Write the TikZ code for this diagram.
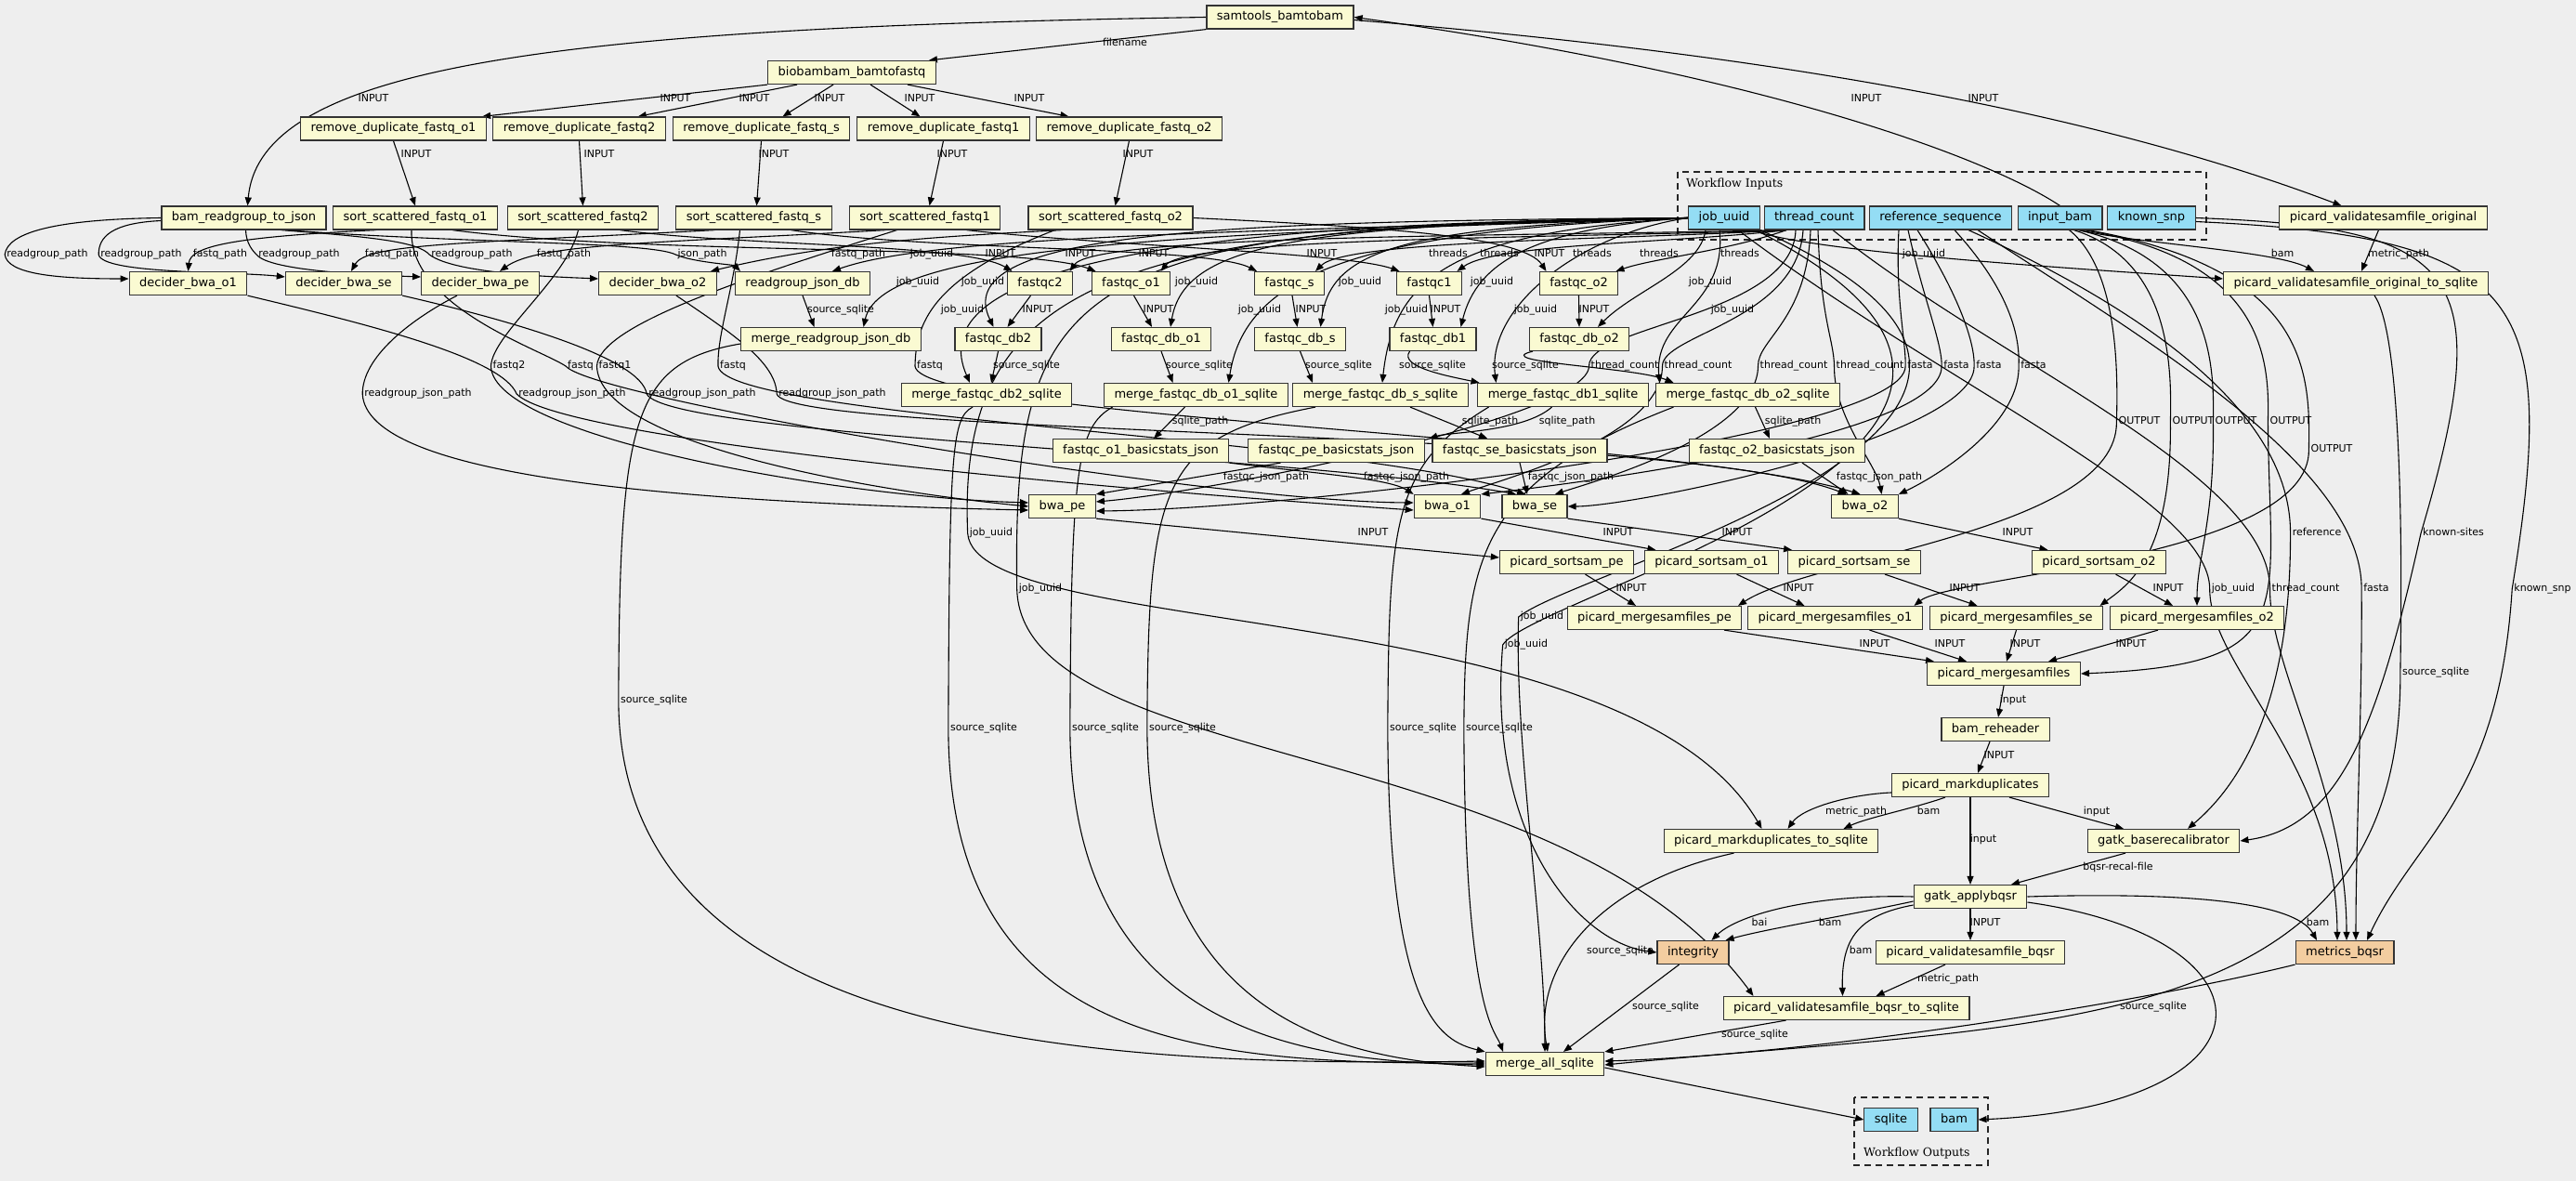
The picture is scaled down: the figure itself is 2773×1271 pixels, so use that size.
\documentclass[tikz,border=0pt]{standalone}
\usepackage{fontspec}
\setmainfont{DejaVu Sans}
\newfontfamily\clusterfont{DejaVu Serif}
\usetikzlibrary{arrows.meta}
\definecolor{toolfill}{HTML}{FAFAD2}
\definecolor{iofill}{HTML}{94DDF4}
\definecolor{checkfill}{HTML}{F3CDA0}
\definecolor{bgcol}{HTML}{EEEEEE}
\definecolor{boxline}{HTML}{333333}
\pgfdeclarelayer{back}
\pgfsetlayers{back,main}
\tikzset{
	tool/.style={draw=boxline, line width=1.2pt, fill=toolfill, minimum height=25pt, inner xsep=11pt, inner ysep=0pt, text height=9.5pt, text depth=3pt, font=\fontsize{13}{15}\selectfont},
	io/.style={tool, fill=iofill},
	check/.style={tool, fill=checkfill},
	flow/.style={line width=1.1pt, -{Triangle[length=9pt,width=7pt]}},
	elabel/.style={inner xsep=2pt, inner ysep=1pt, text height=8pt, text depth=2.5pt, font=\fontsize{11}{13}\selectfont},
	cluster/.style={draw=black!85, line width=1.3pt, dash pattern=on 7pt off 5pt},
	ctitle/.style={anchor=west, inner sep=0pt, font=\clusterfont\fontsize{12.5}{14}\selectfont}
}
\def\lbl(#1)(#2,#3)#4{\node[elabel] (#1) at (#2,-#3) {#4};}

\begin{document}
\begin{tikzpicture}[x=1pt,y=1pt]
			%%%%% START %%%%%
			\useasboundingbox (0,0) rectangle (2773,-1271);
			
			\node[tool] (samtools) at (1378,-18.5) {samtools\_bamtobam};
			\node[tool] (biobambam) at (917,-78) {biobambam\_bamtofastq};
			
			\node[tool] (rmdupo1) at (423.5,-138.5) {remove\_duplicate\_fastq\_o1};
			\node[tool] (rmdup2) at (623.5,-138.5) {remove\_duplicate\_fastq2};
			\node[tool] (rmdups) at (819.5,-138.5) {remove\_duplicate\_fastq\_s};
			\node[tool] (rmdup1) at (1015.5,-138.5) {remove\_duplicate\_fastq1};
			\node[tool] (rmdupo2) at (1215.5,-138.5) {remove\_duplicate\_fastq\_o2};
			
			\node[tool] (rgjson) at (262.5,-234.5) {bam\_readgroup\_to\_json};
			\node[tool] (sorto1) at (447,-234.5) {sort\_scattered\_fastq\_o1};
			\node[tool] (sort2) at (627.5,-234.5) {sort\_scattered\_fastq2};
			\node[tool] (sorts) at (811.5,-234.5) {sort\_scattered\_fastq\_s};
			\node[tool] (sort1) at (995.5,-234.5) {sort\_scattered\_fastq1};
			\node[tool] (sorto2) at (1195.5,-234.5) {sort\_scattered\_fastq\_o2};
			
			\node[io] (jobuuid) at (1856,-234.5) {job\_uuid};
			\node[io] (threadcount) at (1953,-234.5) {thread\_count};
			\node[io] (refseq) at (2089,-234.5) {reference\_sequence};
			\node[io] (inbam) at (2217.5,-234.5) {input\_bam};
			\node[io] (knownsnp) at (2316,-234.5) {known\_snp};
			\node[tool] (pvorig) at (2565.5,-234.5) {picard\_validatesamfile\_original};
			
			\node[tool] (deco1) at (202.5,-305) {decider\_bwa\_o1};
			\node[tool] (decse) at (370,-305) {decider\_bwa\_se};
			\node[tool] (decpe) at (517,-305) {decider\_bwa\_pe};
			\node[tool] (deco2) at (708,-305) {decider\_bwa\_o2};
			\node[tool] (rgdb) at (864,-305) {readgroup\_json\_db};
			\node[tool] (fqc2) at (1119.5,-305) {fastqc2};
			\node[tool] (fqco1) at (1217.5,-305) {fastqc\_o1};
			\node[tool] (fqcs) at (1388,-305) {fastqc\_s};
			\node[tool] (fqc1) at (1538.5,-305) {fastqc1};
			\node[tool] (fqco2) at (1699.5,-305) {fastqc\_o2};
			\node[tool] (pvorigsql) at (2536,-305) {picard\_validatesamfile\_original\_to\_sqlite};
			
			\node[tool] (mergergdb) at (894.5,-365) {merge\_readgroup\_json\_db};
			\node[tool] (fdb2) at (1074.5,-365) {fastqc\_db2};
			\node[tool] (fdbo1) at (1250,-365) {fastqc\_db\_o1};
			\node[tool] (fdbs) at (1399.5,-365) {fastqc\_db\_s};
			\node[tool] (fdb1) at (1542.5,-365) {fastqc\_db1};
			\node[tool] (fdbo2) at (1700,-365) {fastqc\_db\_o2};
			
			\node[tool] (mdb2) at (1062,-425) {merge\_fastqc\_db2\_sqlite};
			\node[tool] (mdbo1) at (1287.5,-425) {merge\_fastqc\_db\_o1\_sqlite};
			\node[tool] (mdbs) at (1486,-425) {merge\_fastqc\_db\_s\_sqlite};
			\node[tool] (mdb1) at (1682.5,-425) {merge\_fastqc\_db1\_sqlite};
			\node[tool] (mdbo2) at (1881.5,-425) {merge\_fastqc\_db\_o2\_sqlite};
			
			\node[tool] (bso1) at (1228,-485) {fastqc\_o1\_basicstats\_json};
			\node[tool] (bspe) at (1438.5,-485) {fastqc\_pe\_basicstats\_json};
			\node[tool] (bsse) at (1636,-485) {fastqc\_se\_basicstats\_json};
			\node[tool] (bso2) at (1913,-485) {fastqc\_o2\_basicstats\_json};
			
			\node[tool] (bwape) at (1143.5,-545) {bwa\_pe};
			\node[tool] (bwao1) at (1558,-545) {bwa\_o1};
			\node[tool] (bwase) at (1652,-545) {bwa\_se};
			\node[tool] (bwao2) at (2007.5,-545) {bwa\_o2};
			
			\node[tool] (sspe) at (1686.5,-605) {picard\_sortsam\_pe};
			\node[tool] (sso1) at (1842.5,-605) {picard\_sortsam\_o1};
			\node[tool] (ssse) at (1996,-605) {picard\_sortsam\_se};
			\node[tool] (sso2) at (2259.5,-605) {picard\_sortsam\_o2};
			
			\node[tool] (msfpe) at (1781,-665) {picard\_mergesamfiles\_pe};
			\node[tool] (msfo1) at (1975.5,-665) {picard\_mergesamfiles\_o1};
			\node[tool] (msfse) at (2170.5,-665) {picard\_mergesamfiles\_se};
			\node[tool] (msfo2) at (2365,-665) {picard\_mergesamfiles\_o2};
			\node[tool] (msf) at (2157,-725) {picard\_mergesamfiles};
			\node[tool] (reheader) at (2148,-785) {bam\_reheader};
			\node[tool] (markdup) at (2121,-845) {picard\_markduplicates};
			\node[tool] (markdupsql) at (1906.5,-905) {picard\_markduplicates\_to\_sqlite};
			\node[tool] (baserecal) at (2329,-905) {gatk\_baserecalibrator};
			\node[tool] (applybqsr) at (2121,-965) {gatk\_applybqsr};
			\node[check] (integrity) at (1822.5,-1025) {integrity};
			\node[tool] (pvbqsr) at (2121,-1025) {picard\_validatesamfile\_bqsr};
			\node[check] (metrics) at (2524,-1025) {metrics\_bqsr};
			\node[tool] (pvbqsrsql) at (1987.5,-1085) {picard\_validatesamfile\_bqsr\_to\_sqlite};
			\node[tool] (mergeall) at (1663,-1145) {merge\_all\_sqlite};
			
			\node[io] (outsqlite) at (2035.5,-1205) {sqlite};
			\node[io] (outbam) at (2103.5,-1205) {bam};
			
			\node[ctitle] (intitle) at (1815,-198) {Workflow Inputs};
			\node[ctitle] (outtitle) at (2006,-1241) {Workflow Outputs};
			
			%%%%% LABELS %%%%%
			
			\lbl(lfile)(1211,47){filename}
			\lbl(lin0)(402,107){INPUT}
			\lbl(lin1)(727,107){INPUT}
			\lbl(lin2)(812,107){INPUT}
			\lbl(lin3)(893,107){INPUT}
			\lbl(lin4)(990,107){INPUT}
			\lbl(lin5)(1108,107){INPUT}
			\lbl(lin6)(2009,107){INPUT}
			\lbl(lin7)(2135,107){INPUT}
			
			\lbl(lrd1)(448,167){INPUT}
			\lbl(lrd2)(645,167){INPUT}
			\lbl(lrd3)(833,167){INPUT}
			\lbl(lrd4)(1025,167){INPUT}
			\lbl(lrd5)(1225,167){INPUT}
			
			\lbl(lrg1)(51,274){readgroup\_path}
			\lbl(lrg2)(152,274){readgroup\_path}
			\lbl(lrg3)(322,274){readgroup\_path}
			\lbl(lrg4)(508,274){readgroup\_path}
			\lbl(lfp1)(237,274){fastq\_path}
			\lbl(lfp2)(422,274){fastq\_path}
			\lbl(lfp3)(607,274){fastq\_path}
			\lbl(lfp4)(924,274){fastq\_path}
			\lbl(ljson)(756,274){json\_path}
			\lbl(ljrg)(1003,274){job\_uuid}
			\lbl(lfi1)(1077,274){INPUT}
			\lbl(lfi2)(1163,274){INPUT}
			\lbl(lfi3)(1242,274){INPUT}
			\lbl(lfi4)(1423,274){INPUT}
			\lbl(lfi5)(1668,274){INPUT}
			\lbl(lth1)(1559,274){threads}
			\lbl(lth2)(1614,274){threads}
			\lbl(lth3)(1714,274){threads}
			\lbl(lth4)(1786,274){threads}
			\lbl(lth5)(1873,274){threads}
			\lbl(ljpv)(2071,274){job\_uuid}
			\lbl(lbpv)(2457,274){bam}
			\lbl(lmpv)(2582,274){metric\_path}
			
			\lbl(ljmr)(988,304){job\_uuid}
			\lbl(ljd1)(1058,304){job\_uuid}
			\lbl(ljd2)(1288,304){job\_uuid}
			\lbl(ljd3)(1464,304){job\_uuid}
			\lbl(ljd4)(1606,304){job\_uuid}
			\lbl(ljd5)(1841,304){job\_uuid}
			
			\lbl(lsmr)(905,334){source\_sqlite}
			\lbl(ljm1)(1036,334){job\_uuid}
			\lbl(lfd1)(1117,334){INPUT}
			\lbl(lfd2)(1247,334){INPUT}
			\lbl(ljm2)(1356,334){job\_uuid}
			\lbl(lfd3)(1411,334){INPUT}
			\lbl(ljm3)(1514,334){job\_uuid}
			\lbl(lfd4)(1556,334){INPUT}
			\lbl(ljm4)(1653,334){job\_uuid}
			\lbl(lfd5)(1716,334){INPUT}
			\lbl(ljm5)(1865,334){job\_uuid}
			
			\lbl(lfq2)(548,394){fastq2}
			\lbl(lfq1)(625,394){fastq}
			\lbl(lfq3)(662,394){fastq1}
			\lbl(lfq4)(789,394){fastq}
			\lbl(lfq5)(1001,394){fastq}
			\lbl(lsd1)(1105,394){source\_sqlite}
			\lbl(lsd2)(1291,394){source\_sqlite}
			\lbl(lsd3)(1441,394){source\_sqlite}
			\lbl(lsd4)(1542,394){source\_sqlite}
			\lbl(lsd5)(1642,394){source\_sqlite}
			\lbl(ltc1)(1749,394){thread\_count}
			\lbl(ltc2)(1828,394){thread\_count}
			\lbl(ltc3)(1931,394){thread\_count}
			\lbl(ltc4)(2013,394){thread\_count}
			\lbl(lfa1)(2067,394){fasta}
			\lbl(lfa2)(2106,394){fasta}
			\lbl(lfa3)(2141,394){fasta}
			\lbl(lfa4)(2189,394){fasta}
			
			\lbl(lrj1)(450,424){readgroup\_json\_path}
			\lbl(lrj2)(616,424){readgroup\_json\_path}
			\lbl(lrj3)(756,424){readgroup\_json\_path}
			\lbl(lrj4)(896,424){readgroup\_json\_path}
			
			\lbl(lsq1)(1292,454){sqlite\_path}
			\lbl(lsq2)(1604,454){sqlite\_path}
			\lbl(lsq3)(1687,454){sqlite\_path}
			\lbl(lsq4)(1930,454){sqlite\_path}
			\lbl(lou1)(2303,454){OUTPUT}
			\lbl(lou2)(2361,454){OUTPUT}
			\lbl(lou3)(2407,454){OUTPUT}
			\lbl(lou4)(2466,454){OUTPUT}
			\lbl(lou5)(2510,484){OUTPUT}
			
			\lbl(ljs1)(1363,514){fastqc\_json\_path}
			\lbl(ljs2)(1514,514){fastqc\_json\_path}
			\lbl(ljs3)(1691,514){fastqc\_json\_path}
			\lbl(ljs4)(2023,514){fastqc\_json\_path}
			
			\lbl(lju1)(1067,574){job\_uuid}
			\lbl(lsi1)(1478,574){INPUT}
			\lbl(lsi2)(1742,574){INPUT}
			\lbl(lsi3)(1870,574){INPUT}
			\lbl(lsi4)(2172,574){INPUT}
			\lbl(lref)(2494,574){reference}
			\lbl(lks)(2641,574){known-sites}
			
			\lbl(lju2)(1120,634){job\_uuid}
			\lbl(lmi1)(1756,634){INPUT}
			\lbl(lmi2)(1936,634){INPUT}
			\lbl(lmi3)(2115,634){INPUT}
			\lbl(lmi4)(2334,634){INPUT}
			\lbl(ljmb)(2404,634){job\_uuid}
			\lbl(ltmb)(2482,634){thread\_count}
			\lbl(lfmb)(2558,634){fasta}
			\lbl(lksn)(2737,634){known\_snp}
			
			\lbl(lju3)(1660,664){job\_uuid}
			\lbl(lju4)(1643,694){job\_uuid}
			\lbl(lpi1)(2018,694){INPUT}
			\lbl(lpi2)(2099,694){INPUT}
			\lbl(lpi3)(2180,694){INPUT}
			\lbl(lpi4)(2294,694){INPUT}
			\lbl(lspv)(2622,724){source\_sqlite}
			\lbl(lsm1)(704,754){source\_sqlite}
			\lbl(lrh)(2167,754){input}
			
			\lbl(lsa1)(1059,784){source\_sqlite}
			\lbl(lsa2)(1190,784){source\_sqlite}
			\lbl(lsa3)(1273,784){source\_sqlite}
			\lbl(lsa4)(1532,784){source\_sqlite}
			\lbl(lsa5)(1614,784){source\_sqlite}
			\lbl(lmd)(2152,814){INPUT}
			
			\lbl(lmp)(1998,874){metric\_path}
			\lbl(lbm)(2076,874){bam}
			\lbl(lbr)(2257,874){input}
			\lbl(lap)(2135,904){input}
			\lbl(lrc)(2280,934){bqsr-recal-file}
			\lbl(lbai)(1894,994){bai}
			\lbl(lbi)(1970,994){bam}
			\lbl(lvi)(2137,994){INPUT}
			\lbl(lbmt)(2495,994){bam}
			\lbl(lsmd)(1744,1024){source\_sqlite}
			\lbl(lbv)(2003,1024){bam}
			\lbl(lmv)(2097,1054){metric\_path}
			\lbl(lsin)(1793,1084){source\_sqlite}
			\lbl(lsmt)(2318,1084){source\_sqlite}
			\lbl(lsvb)(1889,1114){source\_sqlite}
			
			\begin{pgfonlayer}{back}
			\fill[bgcol] (0,0) rectangle (2773,-1271);
			\draw[cluster] (1806,-185) rectangle (2375,-258);
			\draw[cluster] (1996,-1181) rectangle (2140,-1254);
			
			%%%%% TOP %%%%%
			
			\draw[flow] (samtools.south west) -- ([xshift=-8]biobambam.north east);
			\draw[flow] (samtools.west) .. controls (600,-30) and (280,-70) .. ([xshift=4]rgjson.north);
			\draw[flow] (inbam.north) .. controls (2140,-170) and (1900,-80) .. (samtools.east);
			\draw[flow] ([yshift=-3]samtools.east) .. controls (1800,-50) and (2200,-100) .. ([xshift=-45]pvorig.north);
			
			\draw[flow] (biobambam.south west) -- ([xshift=-5]rmdupo1.north east);
			\draw[flow] ([xshift=32]biobambam.south west) -- ([xshift=-30]rmdup2.north east);
			\draw[flow] ([xshift=-20]biobambam.south) -- ([xshift=23]rmdups.north);
			\draw[flow] ([xshift=20]biobambam.south) -- ([xshift=-25]rmdup1.north);
			\draw[flow] ([xshift=60]biobambam.south) -- ([xshift=-65]rmdupo2.north);
			
			\draw[flow] (rmdupo1.south) -- (sorto1.north);
			\draw[flow] (rmdup2.south) -- (sort2.north);
			\draw[flow] (rmdups.south) -- ([xshift=3]sorts.north);
			\draw[flow] (rmdup1.south) -- ([xshift=5]sort1.north);
			\draw[flow] (rmdupo2.south) -- ([xshift=5]sorto2.north);
			
			%%%%% DECIDERS %%%%%
			
			\draw[flow] (rgjson.west) .. controls (60,-236) and (8,-250) .. (lrg1.west) .. controls (8,-295) and (60,-300) .. ([yshift=5]deco1.west);
			\draw[flow] ([yshift=-3]rgjson.west) .. controls (120,-240) and (106,-255) .. (lrg2.west) .. controls (110,-295) and (250,-292) .. ([yshift=7]decse.west);
			\draw[flow] ([xshift=2]rgjson.south) .. controls (265,-262) and (272,-270) .. (lrg3.west) .. controls (290,-292) and (400,-296) .. ([yshift=7]decpe.west);
			\draw[flow] ([xshift=40]rgjson.south) .. controls (400,-255) and (450,-260) .. (lrg4.west) .. controls (490,-295) and (600,-298) .. ([yshift=5]deco2.west);
			\draw[flow] ([xshift=45]rgjson.south) .. controls (500,-262) and (700,-260) .. (ljson.west) .. controls (745,-282) and (790,-285) .. ([xshift=-67]rgdb.north);
			
			\draw[flow] ([xshift=-42]sorto1.south) .. controls (250,-255) and (205,-265) .. (deco1.north);
			\draw[flow] ([xshift=-42]sorts.south) .. controls (500,-262) and (395,-262) .. ([xshift=8]decse.north);
			\draw[flow] ([xshift=-42]sort1.south) .. controls (700,-262) and (580,-262) .. ([xshift=21]decpe.north);
			\draw[flow] ([xshift=-52]sorto2.south) .. controls (1000,-255) and (890,-262) .. ([xshift=57]deco2.north);
			
			\draw[flow] (jobuuid.west) .. controls (1300,-250) and (1000,-255) .. ([xshift=32]rgdb.north);
			\draw[flow] (jobuuid.west) .. controls (1300,-252) and (950,-260) .. ([xshift=35]mergergdb.north);
			\draw[flow] (rgdb.south) -- ([xshift=-18]mergergdb.north);
			
			%%%%% BWA INPUTS %%%%%
			
			\draw[flow] ([xshift=-25]decpe.south) .. controls (440,-345) and (390,-385) .. (lrj1.west) .. controls (395,-510) and (700,-540) .. ([yshift=-4]bwape.west);
			\draw[flow] (deco1.south east) .. controls (400,-350) and (540,-385) .. (lrj2.west) .. controls (600,-470) and (1100,-520) .. ([yshift=-4]bwao1.west);
			\draw[flow] (decse.south east) .. controls (550,-345) and (690,-385) .. (lrj3.west) .. controls (720,-470) and (1400,-490) .. ([xshift=-20]bwase.north);
			\draw[flow] ([xshift=20]deco2.south) .. controls (790,-360) and (835,-390) .. (lrj4.west) .. controls (850,-470) and (1800,-460) .. ([xshift=-20]bwao2.north);
			
			\draw[flow] ([xshift=-5]sort2.south) .. controls (610,-300) and (530,-360) .. (lfq2.west) .. controls (530,-470) and (900,-535) .. ([yshift=4]bwape.west);
			\draw[flow] ([xshift=-4]sorto1.south) .. controls (440,-330) and (580,-375) .. (lfq1.west) .. controls (640,-430) and (1300,-540) .. ([yshift=4]bwao1.west);
			\draw[flow] ([xshift=-30]sort1.south) .. controls (800,-300) and (645,-350) .. (lfq3.west) .. controls (645,-480) and (950,-530) .. (bwape.west);
			\draw[flow] ([xshift=-15]sorts.south) .. controls (790,-310) and (772,-360) .. (lfq4.west) .. controls (780,-450) and (1450,-470) .. ([xshift=-10]bwase.north);
			\draw[flow] ([xshift=-60]sorto2.south) .. controls (1000,-300) and (986,-350) .. (lfq5.west) .. controls (990,-450) and (1800,-470) .. ([xshift=-5]bwao2.north);
			
			%%%%% FASTQC %%%%%
			
			\draw[flow] ([xshift=40]sort2.south) .. controls (800,-265) and (1040,-262) .. ([xshift=-30]fqc2.north);
			\draw[flow] ([xshift=40]sorto1.south) .. controls (700,-275) and (1100,-262) .. ([xshift=-38]fqco1.north);
			\draw[flow] ([xshift=40]sorts.south) .. controls (1000,-270) and (1300,-265) .. ([xshift=-35]fqcs.north);
			\draw[flow] ([xshift=45]sort1.south) .. controls (1200,-265) and (1450,-272) .. ([xshift=-32]fqc1.north);
			\draw[flow] (sorto2.east) .. controls (1500,-245) and (1640,-255) .. ([xshift=-35]fqco2.north);
			
			\draw[flow] ([xshift=-30]threadcount.south) .. controls (1860,-270) and (1780,-278) .. ([xshift=40]fqco2.north);
			\draw[flow] ([xshift=-30]threadcount.south) .. controls (1800,-262) and (1610,-262) .. ([xshift=30]fqc1.north);
			\draw[flow] ([xshift=-30]threadcount.south) .. controls (1750,-258) and (1450,-258) .. ([xshift=28]fqcs.north);
			\draw[flow] ([xshift=-30]threadcount.south) .. controls (1700,-256) and (1280,-255) .. ([xshift=32]fqco1.north);
			\draw[flow] ([xshift=-30]threadcount.south) .. controls (1650,-254) and (1180,-252) .. ([xshift=32]fqc2.north);
			
			\draw[flow] ([xshift=-10]fqc2.south) -- ([xshift=10]fdb2.north);
			\draw[flow] ([xshift=3]fqco1.south) -- ([xshift=-10]fdbo1.north);
			\draw[flow] ([xshift=3]fqcs.south) -- ([xshift=-3]fdbs.north);
			\draw[flow] (fqc1.south) -- (fdb1.north);
			\draw[flow] (fqco2.south) -- (fdbo2.north);
			
			\draw[flow] (jobuuid.west) .. controls (1300,-238) and (1020,-250) .. ([xshift=-5]fdb2.north);
			\draw[flow] (jobuuid.west) .. controls (1400,-242) and (1275,-262) .. ([xshift=10]fdbo1.north);
			\draw[flow] (jobuuid.west) .. controls (1500,-244) and (1432,-272) .. ([xshift=22]fdbs.north);
			\draw[flow] (jobuuid.west) .. controls (1650,-246) and (1590,-282) .. ([xshift=30]fdb1.north);
			\draw[flow] ([xshift=-20]jobuuid.south) .. controls (1830,-290) and (1760,-312) .. ([xshift=20]fdbo2.north);
			
			\draw[flow] (jobuuid.west) .. controls (1200,-240) and (995,-300) .. ([xshift=-18]mdb2.north);
			\draw[flow] (jobuuid.west) .. controls (1450,-248) and (1340,-300) .. ([xshift=35]mdbo1.north);
			\draw[flow] (jobuuid.west) .. controls (1560,-250) and (1500,-300) .. ([xshift=2]mdbs.north);
			\draw[flow] (jobuuid.west) .. controls (1700,-252) and (1600,-330) .. ([xshift=-72]mdb1.north);
			\draw[flow] ([xshift=-5]jobuuid.south) .. controls (1860,-330) and (1780,-340) .. ([xshift=-95]mdbo2.north);
			
			\draw[flow] (fdb2.south) -- ([xshift=5]mdb2.north);
			\draw[flow] (fdbo1.south) -- ([xshift=-25]mdbo1.north);
			\draw[flow] (fdbs.south) -- ([xshift=-73]mdbs.north);
			\draw[flow] ([xshift=-25]fdb1.south) .. controls (1505,-395) and (1560,-405) .. ([xshift=-90]mdb1.north);
			\draw[flow] ([xshift=-50]fdbo2.south) .. controls (1600,-390) and (1760,-395) .. ([xshift=-80]mdbo2.north);
			
			\draw[flow] ([xshift=-12]mdbo1.south) -- ([xshift=14]bso1.north);
			\draw[flow] ([xshift=32]mdbs.south) -- ([xshift=-35]bsse.north);
			\draw[flow] ([xshift=-12]mdb1.south) .. controls (1640,-465) and (1560,-465) .. ([xshift=100]bspe.north);
			\draw[flow] ([xshift=8]mdbo2.south) -- ([xshift=-8]bso2.north);
			
			\draw[flow] ([xshift=-60]bspe.south) -- (bwape.north east);
			\draw[flow] (bso1.south east) .. controls (1420,-510) and (1495,-515) .. (bwao1.north west);
			\draw[flow] (bsse.south) -- ([xshift=-8]bwase.north);
			\draw[flow] ([xshift=27]bso2.south) -- ([xshift=-18]bwao2.north);
			
			%%%%% BWA PARAMETERS %%%%%
			
			\draw[flow] ([xshift=-20]threadcount.south) .. controls (1930,-340) and (1710,-350) .. (ltc1.west) .. controls (1710,-450) and (1300,-530) .. ([yshift=5]bwape.east);
			\draw[flow] ([xshift=-12]threadcount.south) .. controls (1935,-345) and (1789,-360) .. (ltc2.west) .. controls (1789,-470) and (1620,-515) .. ([xshift=15]bwao1.north);
			\draw[flow] ([xshift=-4]threadcount.south) .. controls (1945,-345) and (1892,-365) .. (ltc3.west) .. controls (1892,-470) and (1710,-520) .. ([xshift=22]bwase.north);
			\draw[flow] ([xshift=4]threadcount.south) .. controls (1960,-345) and (1974,-365) .. (ltc4.west) .. controls (1974,-450) and (2020,-500) .. ([xshift=18]bwao2.north);
			
			\draw[flow] ([xshift=-45]refseq.south) .. controls (2040,-320) and (2052,-370) .. (lfa1.west) .. controls (2052,-470) and (1400,-548) .. ([yshift=-5]bwape.east);
			\draw[flow] ([xshift=-35]refseq.south) .. controls (2070,-320) and (2091,-370) .. (lfa2.west) .. controls (2091,-470) and (1700,-520) .. (bwao1.north east);
			\draw[flow] ([xshift=-25]refseq.south) .. controls (2110,-320) and (2126,-370) .. (lfa3.west) .. controls (2126,-470) and (1760,-545) .. (bwase.east);
			\draw[flow] ([xshift=15]refseq.south) .. controls (2170,-320) and (2174,-370) .. (lfa4.west) .. controls (2174,-460) and (2080,-515) .. (bwao2.north east);
			
			%%%%% PICARD %%%%%
			
			\draw[flow] (bwape.south east) -- ([yshift=5]sspe.west);
			\draw[flow] (bwao1.south east) -- ([xshift=-60]sso1.north);
			\draw[flow] (bwase.south east) -- ([xshift=5]ssse.north west);
			\draw[flow] (bwao2.south east) -- ([xshift=-55]sso2.north);
			
			\draw[flow] ([xshift=20]sspe.south) -- ([xshift=-20]msfpe.north);
			\draw[flow] ([xshift=27]sso1.south) -- ([xshift=-33]msfo1.north);
			\draw[flow] ([xshift=33]ssse.south) -- ([xshift=-42]msfse.north);
			\draw[flow] ([xshift=18]sso2.south) -- ([xshift=-26]msfo2.north);
			
			\draw[flow] ([xshift=10]inbam.south) .. controls (2280,-290) and (2280,-400) .. (lou1.west) .. controls (2280,-570) and (1950,-600) .. ([xshift=90]msfpe.north);
			\draw[flow] ([xshift=15]inbam.south) .. controls (2335,-280) and (2338,-390) .. (lou2.west) .. controls (2338,-600) and (2290,-630) .. ([xshift=90]msfse.north);
			\draw[flow] ([xshift=20]inbam.south) .. controls (2380,-280) and (2384,-390) .. (lou3.west) .. controls (2384,-560) and (2365,-600) .. (msfo2.north);
			\draw[flow] ([xshift=25]inbam.south) .. controls (2440,-280) and (2443,-390) .. (lou4.west) .. controls (2443,-660) and (2480,-715) .. (msf.east);
			\draw[flow] ([xshift=30]inbam.south) .. controls (2485,-290) and (2487,-400) .. (lou5.west) .. controls (2487,-600) and (2100,-620) .. ([xshift=85]msfo1.north);
			
			\draw[flow] ([xshift=75]msfpe.south) -- ([xshift=-75]msf.north);
			\draw[flow] ([xshift=37]msfo1.south) -- ([xshift=-40]msf.north);
			\draw[flow] (msfse.south) -- ([xshift=3]msf.north);
			\draw[flow] ([xshift=-42]msfo2.south) -- ([xshift=48]msf.north);
			
			\draw[flow] (msf.south) -- ([xshift=3]reheader.north);
			\draw[flow] ([xshift=-6]reheader.south) -- ([xshift=8]markdup.north);
			\draw[flow] ([yshift=-8]markdup.west) .. controls (1990,-855) and (1940,-870) .. ([xshift=18]markdupsql.north);
			\draw[flow] ([xshift=-27]markdup.south) .. controls (2060,-870) and (2010,-880) .. ([xshift=78]markdupsql.north);
			\draw[flow] ([xshift=42]markdup.south) -- ([xshift=-43]baserecal.north);
			\draw[flow] (markdup.south) -- (applybqsr.north);
			\draw[flow] ([xshift=-41]baserecal.south) -- ([xshift=44]applybqsr.north);
			
			\draw[flow] ([xshift=30]refseq.south) .. controls (2300,-330) and (2466,-440) .. (lref.west) .. controls (2466,-700) and (2440,-820) .. ([xshift=26]baserecal.north);
			\draw[flow] (knownsnp.east) .. controls (2650,-245) and (2690,-290) .. (lks.west) .. controls (2560,-780) and (2520,-890) .. (baserecal.east);
			\draw[flow] ([yshift=-4]knownsnp.east) .. controls (2720,-255) and (2755,-320) .. (lksn.west) .. controls (2690,-860) and (2600,-900) .. ([xshift=24]metrics.north);
			
			\draw[flow] ([xshift=15]jobuuid.south) .. controls (2100,-420) and (2379,-540) .. (ljmb.west) .. controls (2379,-720) and (2515,-820) .. ([xshift=-8]metrics.north);
			\draw[flow] ([xshift=20]threadcount.south) .. controls (2150,-390) and (2443,-510) .. (ltmb.west) .. controls (2443,-720) and (2526,-850) .. ([xshift=2]metrics.north);
			\draw[flow] ([xshift=40]refseq.south) .. controls (2300,-360) and (2543,-500) .. (lfmb.west) .. controls (2543,-760) and (2536,-900) .. ([xshift=12]metrics.north);
			
			%%%%% BQSR %%%%%
			
			\draw[flow] (applybqsr.west) .. controls (1950,-962) and (1870,-985) .. ([xshift=20]integrity.north);
			\draw[flow] ([yshift=-5]applybqsr.west) .. controls (1990,-985) and (1900,-1000) .. ([xshift=-4]integrity.north east);
			\draw[flow] ([yshift=-9]applybqsr.west) .. controls (2000,-985) and (1982,-1010) .. ([xshift=-4]pvbqsrsql.north);
			\draw[flow] (applybqsr.south) -- (pvbqsr.north);
			\draw[flow] (applybqsr.east) .. controls (2350,-960) and (2470,-970) .. ([xshift=-30]metrics.north);
			\draw[flow] ([yshift=-6]applybqsr.east) .. controls (2460,-1010) and (2460,-1190) .. (outbam.east);
			\draw[flow] ([xshift=-27]pvbqsr.south) -- ([xshift=32]pvbqsrsql.north);
			
			%%%%% VALIDATE ORIGINAL %%%%%
			
			\draw[flow] ([xshift=30]jobuuid.south) .. controls (1950,-272) and (2250,-290) .. ([yshift=5]pvorigsql.west);
			\draw[flow] ([xshift=20]inbam.south) .. controls (2300,-262) and (2450,-270) .. ([xshift=-45]pvorigsql.north);
			\draw[flow] ([xshift=-5]pvorig.south) -- ([xshift=6]pvorigsql.north);
			
			%%%%% JOB UUID TO SQLITE %%%%%
			
			\draw[flow] (jobuuid.west) .. controls (1200,-242) and (1030,-300) .. (lju1.west) .. controls (1050,-690) and (1750,-640) .. ([xshift=-10]markdupsql.north);
			\draw[flow] (jobuuid.west) .. controls (1150,-242) and (1090,-300) .. (lju2.west) .. controls (1100,-830) and (1680,-790) .. ([xshift=-100]pvbqsrsql.north);
			\draw[flow] (jobuuid.south east) .. controls (2350,-450) and (1700,-610) .. (lju3.west) .. controls (1630,-800) and (1663,-1000) .. (mergeall.north);
			\draw[flow] ([xshift=-5]jobuuid.south east) .. controls (2330,-470) and (1650,-640) .. (lju4.west) .. controls (1600,-900) and (1700,-1015) .. (integrity.west);
			
			%%%%% MERGE ALL %%%%%
			
			\draw[flow] ([yshift=-5]mergergdb.west) .. controls (680,-390) and (667,-450) .. (lsm1.west) .. controls (667,-1130) and (1200,-1148) .. ([yshift=3]mergeall.west);
			\draw[flow] ([xshift=-15]mdb2.south) .. controls (1025,-450) and (1022,-480) .. (lsa1.west) .. controls (1022,-1130) and (1300,-1145) .. ([yshift=1]mergeall.west);
			\draw[flow] ([xshift=-90]mdbo1.south) .. controls (1160,-460) and (1153,-500) .. (lsa2.west) .. controls (1153,-1110) and (1400,-1143) .. ([yshift=-1]mergeall.west);
			\draw[flow] ([xshift=-70]mdbs.south) .. controls (1250,-470) and (1236,-520) .. (lsa3.west) .. controls (1236,-1100) and (1450,-1140) .. ([yshift=-3]mergeall.west);
			\draw[flow] ([xshift=-80]mdb1.south) .. controls (1500,-500) and (1495,-560) .. (lsa4.west) .. controls (1495,-1090) and (1550,-1120) .. (mergeall.north west);
			\draw[flow] ([xshift=-80]mdbo2.south) .. controls (1590,-520) and (1577,-600) .. (lsa5.west) .. controls (1577,-1090) and (1610,-1110) .. ([xshift=-45]mergeall.north);
			
			\draw[flow] ([xshift=-40]markdupsql.south) .. controls (1720,-950) and (1650,-1040) .. ([xshift=3]mergeall.north);
			\draw[flow] ([xshift=-15]integrity.south) -- ([xshift=20]mergeall.north);
			\draw[flow] ([xshift=-65]pvbqsrsql.south) -- (mergeall.north east);
			\draw[flow] (metrics.south west) .. controls (2300,-1080) and (1950,-1135) .. ([yshift=3]mergeall.east);
			\draw[flow] ([xshift=20]pvorigsql.south) .. controls (2586,-360) and (2586,-600) .. (lspv.west) .. controls (2586,-1120) and (2200,-1100) .. ([yshift=-1]mergeall.east);
			\draw[flow] ([yshift=-4]mergeall.east) -- (outsqlite.west);
			\end{pgfonlayer}
			
			%%%%% END %%%%%
\end{tikzpicture}
\end{document}
